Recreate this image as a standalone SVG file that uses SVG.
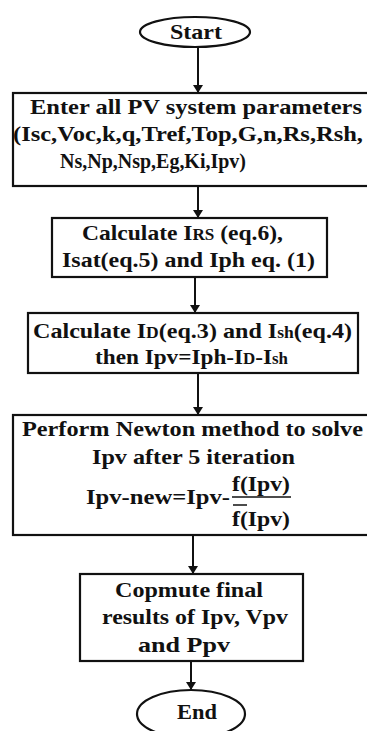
<svg xmlns="http://www.w3.org/2000/svg" width="367" height="731" viewBox="0 0 367 731">
<style>
.box{fill:#fff;stroke:#111;stroke-width:2.2}
.t{font-family:'Liberation Serif','Tinos','Times New Roman','DejaVu Serif',serif;font-weight:bold;fill:#111;font-size:22px}
.s{font-size:16px}
.c{stroke:#111;stroke-width:2;fill:none}
</style>
<defs>
<marker id="ah" markerWidth="8" markerHeight="10" refX="7" refY="5" orient="auto" markerUnits="userSpaceOnUse">
<path d="M0,0 L8,5 L0,10 z" fill="#111"/>
</marker>
</defs>
<rect width="367" height="731" fill="#fff"/>
<g id="connectors">
<line class="c" x1="198" y1="47" x2="198" y2="92" marker-end="url(#ah)"/>
<line class="c" x1="198" y1="186" x2="198" y2="217" marker-end="url(#ah)"/>
<line class="c" x1="195" y1="277" x2="195" y2="312" marker-end="url(#ah)"/>
<line class="c" x1="198" y1="373" x2="198" y2="414" marker-end="url(#ah)"/>
<line class="c" x1="193" y1="535" x2="193" y2="573" marker-end="url(#ah)"/>
<line class="c" x1="191" y1="661" x2="191" y2="689" marker-end="url(#ah)"/>
</g>
<g id="start">
<ellipse class="box" cx="195" cy="32" rx="55" ry="15"/>
<text class="t" x="170" y="39" textLength="52" lengthAdjust="spacingAndGlyphs">Start</text>
</g>
<g id="params">
<rect class="box" x="13" y="93" width="362" height="93"/>
<text class="t" x="30" y="114" textLength="332" lengthAdjust="spacingAndGlyphs">Enter all PV system parameters</text>
<text class="t" x="13" y="141" textLength="350" lengthAdjust="spacingAndGlyphs">(Isc,Voc,k,q,Tref,Top,G,n,Rs,Rsh,</text>
<text class="t" x="60" y="168" textLength="186" lengthAdjust="spacingAndGlyphs">Ns,Np,Nsp,Eg,Ki,Ipv)</text>
</g>
<g id="calc1">
<rect class="box" x="52" y="218" width="275" height="59"/>
<text class="t" x="82" y="240" textLength="201" lengthAdjust="spacingAndGlyphs">Calculate I<tspan class="s">RS</tspan> (eq.6),</text>
<text class="t" x="62" y="267" textLength="253" lengthAdjust="spacingAndGlyphs">Isat(eq.5) and Iph eq. (1)</text>
</g>
<g id="calc2">
<rect class="box" x="28" y="313" width="330" height="60"/>
<text class="t" x="33" y="338" textLength="319" lengthAdjust="spacingAndGlyphs">Calculate I<tspan class="s">D</tspan>(eq.3)  and I<tspan class="s">sh</tspan>(eq.4)</text>
<text class="t" x="95" y="364" textLength="193" lengthAdjust="spacingAndGlyphs">then Ipv=Iph-I<tspan class="s">D</tspan>-I<tspan class="s">sh</tspan></text>
</g>
<g id="newton">
<rect class="box" x="13" y="415" width="362" height="120"/>
<text class="t" x="22" y="436" textLength="341" lengthAdjust="spacingAndGlyphs">Perform Newton method  to solve</text>
<text class="t" x="92" y="464" textLength="203" lengthAdjust="spacingAndGlyphs">Ipv after 5 iteration</text>
<text class="t" x="86" y="504" textLength="144" lengthAdjust="spacingAndGlyphs">Ipv-new=Ipv-</text>
<text class="t" x="232" y="491" textLength="58" lengthAdjust="spacingAndGlyphs">f(Ipv)</text>
<line x1="232" y1="497" x2="291" y2="497" stroke="#111" stroke-width="1.5"/>
<line x1="233" y1="505" x2="247" y2="505" stroke="#111" stroke-width="1.5"/>
<text class="t" x="232" y="526" textLength="58" lengthAdjust="spacingAndGlyphs">f(Ipv)</text>
</g>
<g id="compute">
<rect class="box" x="80" y="574" width="223" height="87"/>
<text class="t" x="115" y="597" textLength="148" lengthAdjust="spacingAndGlyphs">Copmute final</text>
<text class="t" x="102" y="624" textLength="186" lengthAdjust="spacingAndGlyphs">results of Ipv, Vpv</text>
<text class="t" x="138" y="652" textLength="92" lengthAdjust="spacingAndGlyphs">and Ppv</text>
</g>
<g id="end">
<ellipse class="box" cx="191" cy="714" rx="54" ry="24"/>
<text class="t" x="177" y="719" textLength="40" lengthAdjust="spacingAndGlyphs">End</text>
</g>
</svg>
